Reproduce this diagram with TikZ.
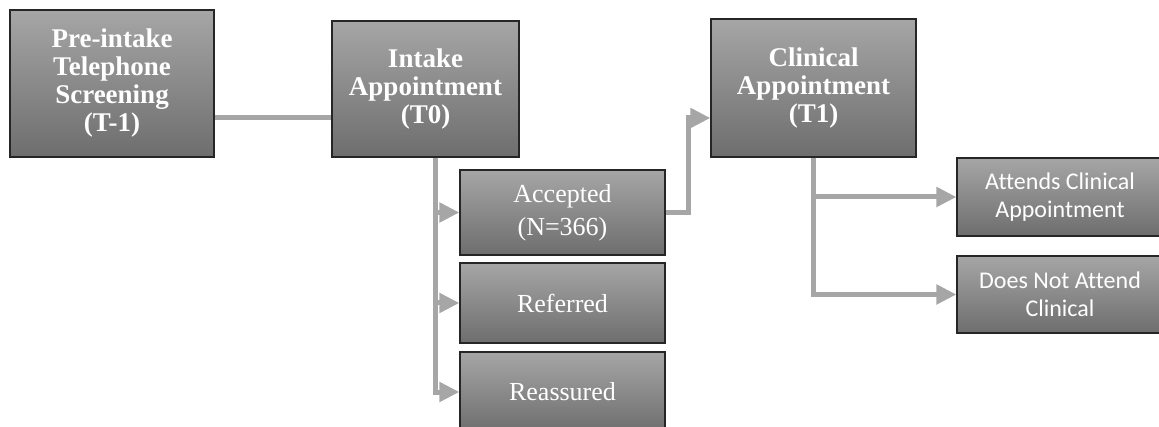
\documentclass[tikz,border=0pt]{standalone}
\usepackage{fontspec}
\setmainfont{Liberation Serif}
\newfontfamily\calibri[Ligatures=NoCommon]{Carlito}
\usetikzlibrary{arrows.meta,shadows}

\begin{document}
\begin{tikzpicture}[x=1pt,y=-1pt]
                    \tikzstyle{stagebox}=[draw=black!85,line width=1.2pt,top color=black!35,bottom color=black!57,text=white,align=center,inner sep=0pt,minimum width=205pt,drop shadow={shadow xshift=1pt,shadow yshift=-1.5pt,opacity=.25}]
                    \tikzstyle{headfont}=[font=\bfseries\fontsize{27}{28}\selectfont]
                    \tikzstyle{plainfont}=[font=\fontsize{26}{33}\selectfont]
                    \tikzstyle{sansfont}=[font=\calibri\fontsize{24}{28}\selectfont]
                    \tikzstyle{link}=[draw=black!35,line width=5pt]
                    \tikzstyle{linkarrow}=[link,-{Triangle[length=20pt,width=19pt]}]
                    \useasboundingbox (0,0) rectangle (1159,427);
                    \node[stagebox,headfont,minimum width=204pt,minimum height=147pt] (pre) at (112,83.5) {Pre-intake\\Telephone\\Screening\\(T-1)};
                    \node[stagebox,headfont,minimum width=187pt,minimum height=136pt] (intake) at (425.5,89) {Intake\\Appointment\\(T0)};
                    \node[stagebox,headfont,minimum height=138pt] (clin) at (813.5,88) {Clinical\\Appointment\\(T1)};
                    \node[stagebox,plainfont,minimum height=85pt] (acc) at (562.5,212.5) {Accepted\\(N=366)};
                    \node[stagebox,plainfont,minimum height=80pt] (ref) at (562.5,303) {Referred};
                    \node[stagebox,plainfont,minimum height=80pt] (rea) at (562.5,392) {Reassured};
                    \node[stagebox,sansfont,minimum width=206pt,minimum height=78pt] (att) at (1060,197) {Attends Clinical\\Appointment};
                    \node[stagebox,sansfont,minimum width=206pt,minimum height=77pt] (dna) at (1060,294.5) {Does Not Attend\\Clinical};
                    \draw[link] (pre.east |- 0,118) -- (intake.west |- 0,118);
                    \draw[linkarrow] ([xshift=9.5pt]intake.south) |- (rea.west);
                    \draw[linkarrow] ([xshift=9.5pt]intake.south) |- (ref.west);
                    \draw[linkarrow] ([xshift=9.5pt]intake.south) |- (acc.west);
                    \draw[linkarrow] (acc.east) -| (688,118) -- (clin.west |- 0,118);
                    \draw[linkarrow] (clin.south) |- (dna.west);
                    \draw[linkarrow] (clin.south) |- (att.west);
                \end{tikzpicture}
\end{document}
